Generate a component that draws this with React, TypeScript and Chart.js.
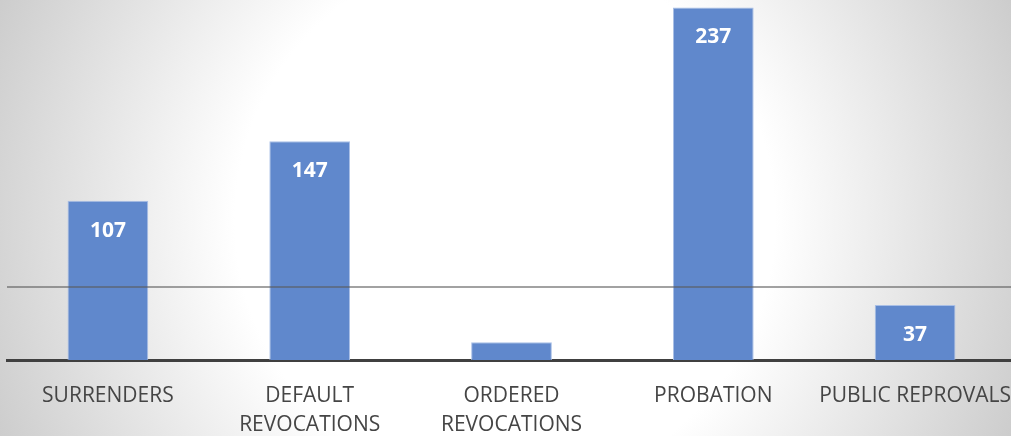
import React, { useEffect, useRef } from "react";
import { Chart, registerables } from "chart.js";

Chart.register(...registerables);

const categories: (string | string[])[] = [
  "SURRENDERS",
  ["DEFAULT", "REVOCATIONS"],
  ["ORDERED", "REVOCATIONS"],
  "PROBATION",
  "PUBLIC REPROVALS",
];
const values: number[] = [107, 147, 12, 237, 37];
const referenceLineValue = 49;
const yMax = 242;

const overlayPlugin = {
  id: "overlay",
  afterDatasetsDraw(chart: any) {
    const { ctx, chartArea, scales } = chart;
    const y = scales.y.getPixelForValue(referenceLineValue);
    ctx.save();
    ctx.strokeStyle = "rgba(90,90,90,0.75)";
    ctx.lineWidth = 1.5;
    ctx.beginPath();
    ctx.moveTo(chartArea.left, y);
    ctx.lineTo(chartArea.right + 20, y);
    ctx.stroke();

    const meta = chart.getDatasetMeta(0);
    ctx.fillStyle = "#ffffff";
    ctx.font = "bold 21px 'Open Sans'";
    ctx.textAlign = "center";
    ctx.textBaseline = "middle";
    meta.data.forEach((bar: any, i: number) => {
      ctx.fillText(String(values[i]), bar.x, bar.y + 30);
    });
    ctx.restore();
  },
};

export default function App() {
  const ref = useRef<HTMLCanvasElement>(null);
  useEffect(() => {
    document.body.style.margin = "0";
    const chart = new Chart(ref.current!, {
      type: "bar",
      data: {
        labels: categories,
        datasets: [
          {
            data: values,
            backgroundColor: "#6088cc",
            borderColor: "#a9bfe6",
            borderWidth: 1,
            barPercentage: 0.8,
            categoryPercentage: 0.5,
          },
        ],
      },
      options: {
        responsive: false,
        animation: false,
        layout: { padding: { left: 7, right: 0, top: 0, bottom: 0 } },
        plugins: { legend: { display: false }, tooltip: { enabled: false } },
        scales: {
          x: {
            grid: { display: false, drawTicks: false },
            border: { display: true, color: "#404040", width: 3 },
            afterFit: (scale: any) => {
              scale.height = 76;
              scale.paddingLeft = 0;
              scale.paddingRight = 0;
            },
            ticks: {
              color: "#454545",
              padding: 21,
              maxRotation: 0,
              autoSkip: false,
              font: { family: "'Open Sans'", size: 21, lineHeight: 1.4 },
            },
          },
          y: {
            display: false,
            min: 0,
            max: yMax,
          },
        },
      },
      plugins: [overlayPlugin],
    });
    return () => chart.destroy();
  }, []);
  return (
    <div
      style={{
        position: "fixed",
        left: 0,
        top: 0,
        width: 1011,
        height: 436,
        overflow: "hidden",
        background:
          "radial-gradient(circle at 505px 220px, #ffffff 270px, #cbcbcb 560px)",
      }}
    >
      <canvas ref={ref} width={1016} height={436} style={{ position: "absolute", left: 0, top: 0 }} />
    </div>
  );
}
